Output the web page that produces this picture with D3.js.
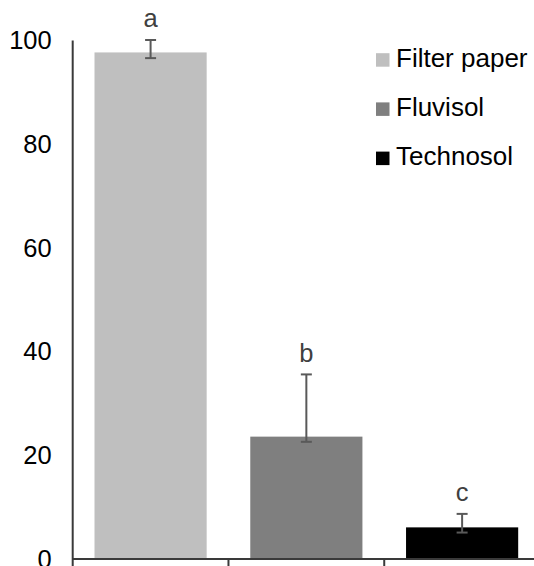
<!DOCTYPE html>
<html>
<head>
<meta charset="utf-8">
<script src="https://cdn.jsdelivr.net/npm/d3@7"></script>
<style>
  html, body { margin: 0; padding: 0; background: #fff; }
  svg { display: block; font-family: "Liberation Sans", Arial, sans-serif; }
</style>
</head>
<body>
<svg id="chart" width="534" height="566"></svg>
<script>
// Substrates compared
const categories = ["Filter paper", "Fluvisol", "Technosol"];
// Mean values (%)
const values = [97.7, 23.6, 6.1];
// Error bar upper and lower limits
const errHigh = [100.1, 35.6, 8.7];
const errLow = [96.6, 22.6, 5.1];
// Significance letters
const letters = ["a", "b", "c"];
// Y axis tick labels
const yTicks = [0, 20, 40, 60, 80, 100];
const colors = ["#bfbfbf", "#7f7f7f", "#000000"];

const svg = d3.select("#chart");
const W = 534, H = 566;

const y = d3.scaleLinear().domain([0, 100]).range([559, 40.5]);
const x = d3.scaleBand().domain(categories).range([72.7, 540])
  .paddingInner(0.28).paddingOuter(0.14);

// Bars
svg.append("g").selectAll("rect").data(categories).join("rect")
  .attr("x", d => x(d))
  .attr("y", (d, i) => y(values[i]))
  .attr("width", x.bandwidth())
  .attr("height", (d, i) => y(0) - y(values[i]))
  .attr("fill", (d, i) => colors[i]);

// Error bars
const eb = svg.append("g").attr("stroke", "#595959").attr("stroke-width", 2);
categories.forEach((c, i) => {
  const cx = x(c) + x.bandwidth() / 2;
  eb.append("line").attr("x1", cx).attr("x2", cx)
    .attr("y1", y(errHigh[i])).attr("y2", y(errLow[i]));
  [errHigh[i], errLow[i]].forEach(v => {
    eb.append("line").attr("x1", cx - 5.5).attr("x2", cx + 5.5)
      .attr("y1", y(v)).attr("y2", y(v));
  });
  svg.append("text").attr("x", cx).attr("y", y(errHigh[i]) - 12.5)
    .attr("text-anchor", "middle").attr("fill", "#404040")
    .attr("font-size", "25.5px").text(letters[i]);
});

// Y axis
const yAxis = svg.append("g").attr("transform", `translate(${x.range()[0]},0)`)
  .call(d3.axisLeft(y).tickValues(yTicks).tickSize(0).tickPadding(21));
yAxis.select(".domain").remove();
yAxis.selectAll("text").attr("font-size", "25.5px").attr("fill", "#000")
  .attr("font-family", "Liberation Sans, Arial, sans-serif");

const axisColor = "#3a3a3a";
// Vertical axis line continuing below the baseline
svg.append("line").attr("x1", x.range()[0]).attr("x2", x.range()[0])
  .attr("y1", y(100)).attr("y2", H)
  .attr("stroke", axisColor).attr("stroke-width", 2);

// Horizontal axis line
svg.append("line").attr("x1", x.range()[0]).attr("x2", W)
  .attr("y1", y(0)).attr("y2", y(0))
  .attr("stroke", axisColor).attr("stroke-width", 2);

// Category boundary ticks below the baseline
const step = x.step();
const bounds = categories.map(c => x(c) - step * x.paddingInner() / 2 + step)
  ;
svg.append("g").selectAll("line").data(bounds).join("line")
  .attr("x1", d => d).attr("x2", d => d)
  .attr("y1", y(0)).attr("y2", H)
  .attr("stroke", axisColor).attr("stroke-width", 2);

// Legend
const legend = svg.append("g");
categories.forEach((c, i) => {
  const base = 66.7 + i * 49.2;
  legend.append("rect").attr("x", 376).attr("y", base - 13.5)
    .attr("width", 13.5).attr("height", 13.5).attr("fill", colors[i]);
  legend.append("text").attr("x", 396).attr("y", base)
    .attr("font-size", "26px").attr("fill", "#000").text(c);
});
</script>
</body>
</html>
